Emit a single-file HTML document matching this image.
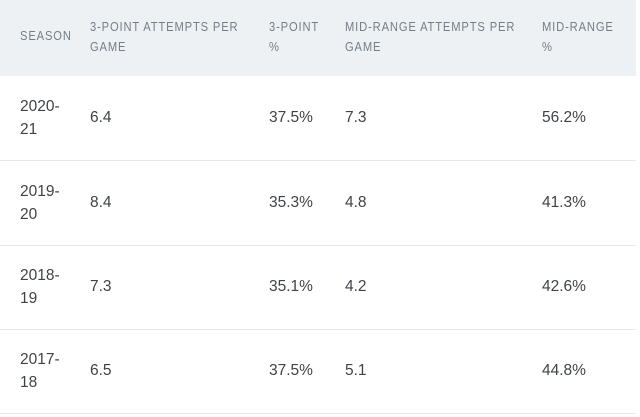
<!DOCTYPE html>
<html><head><meta charset="utf-8"><style>
body{margin:0;background:#fff;width:640px;height:417px;overflow:hidden;font-family:"Liberation Sans",sans-serif;}
.hd{position:absolute;left:0;top:0;width:636px;height:76px;background:#eef1f4;}
.h{position:absolute;font-size:13px;letter-spacing:1px;color:#747e88;line-height:20px;white-space:nowrap;transform:scaleX(0.86);transform-origin:0 0;}
.row{position:absolute;left:0;width:636px;height:84px;border-bottom:1px solid #e6e8ea;}
.c{position:absolute;font-size:15.5px;color:#3f4247;line-height:23px;}
</style></head><body>
<div class="hd"></div>
<div class="h" style="left:20px;top:26px">SEASON</div>
<div class="h" style="left:90px;top:17px">3-POINT ATTEMPTS PER<br>GAME</div>
<div class="h" style="left:269px;top:17px">3-POINT<br>%</div>
<div class="h" style="left:345px;top:17px">MID-RANGE ATTEMPTS PER<br>GAME</div>
<div class="h" style="left:542px;top:17px">MID-RANGE<br>%</div>

<div class="row" style="top:76px">
<div class="c" style="left:20px;top:19px">2020-<br>21</div>
<div class="c" style="left:90px;top:30px">6.4</div>
<div class="c" style="left:269px;top:30px">37.5%</div>
<div class="c" style="left:345px;top:30px">7.3</div>
<div class="c" style="left:542px;top:30px">56.2%</div>
</div>
<div class="row" style="top:161px">
<div class="c" style="left:20px;top:19px">2019-<br>20</div>
<div class="c" style="left:90px;top:30px">8.4</div>
<div class="c" style="left:269px;top:30px">35.3%</div>
<div class="c" style="left:345px;top:30px">4.8</div>
<div class="c" style="left:542px;top:30px">41.3%</div>
</div>
<div class="row" style="top:245px">
<div class="c" style="left:20px;top:19px">2018-<br>19</div>
<div class="c" style="left:90px;top:30px">7.3</div>
<div class="c" style="left:269px;top:30px">35.1%</div>
<div class="c" style="left:345px;top:30px">4.2</div>
<div class="c" style="left:542px;top:30px">42.6%</div>
</div>
<div class="row" style="top:329px">
<div class="c" style="left:20px;top:19px">2017-<br>18</div>
<div class="c" style="left:90px;top:30px">6.5</div>
<div class="c" style="left:269px;top:30px">37.5%</div>
<div class="c" style="left:345px;top:30px">5.1</div>
<div class="c" style="left:542px;top:30px">44.8%</div>
</div>
</body></html>
